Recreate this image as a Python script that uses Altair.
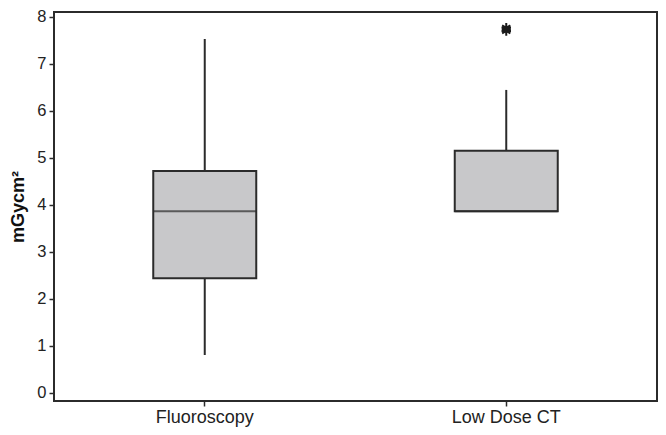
import altair as alt
import pandas as pd

categories = ["Fluoroscopy", "Low Dose CT"]
whisker_low = [0.81, 3.86]
q1 = [2.44, 3.86]
median = [3.86, 3.86]
q3 = [4.72, 5.15]
whisker_high = [7.52, 6.44]
outlier_cat = ["Low Dose CT", "Low Dose CT"]
outlier_val = [7.76, 7.69]

box_df = pd.DataFrame({
    "cat": categories, "lo": whisker_low, "q1": q1, "med": median,
    "q3": q3, "hi": whisker_high,
})
out_df = pd.DataFrame({"cat": outlier_cat, "val": outlier_val})

DARK = "#2b2b2b"
FONT = "Liberation Sans"

x_enc = alt.X("cat:N", sort=categories,
              scale=alt.Scale(paddingInner=0, paddingOuter=0),
              axis=alt.Axis(title=None, labelAngle=0, labelFontSize=18,
                            labelColor="#222222", labelFont=FONT,
                            domain=False, ticks=True, tickSize=5,
                            tickColor=DARK, tickWidth=1.5, labelPadding=2))
y_scale = alt.Scale(domain=[-0.17, 8.096], nice=False, zero=False)
y_axis = alt.Axis(title="mGycm²", values=list(range(0, 9)), grid=False,
                  domain=False, tickSize=5, tickColor=DARK, tickWidth=1.5,
                  labelFontSize=16.5, labelFont=FONT, labelColor="#222222",
                  labelPadding=3, titleFont=FONT, titleFontSize=18,
                  titleFontWeight="bold", titleColor="#111111",
                  titlePadding=9)

base = alt.Chart(box_df)

whisk = base.mark_rule(color=DARK, strokeWidth=2).encode(
    x=x_enc,
    y=alt.Y("lo:Q", scale=y_scale, axis=y_axis),
    y2="hi:Q",
)
box = base.mark_bar(size=103, fill="#c8c8ca", stroke=DARK, strokeWidth=2).encode(
    x=x_enc,
    y=alt.Y("q1:Q", scale=y_scale, axis=y_axis),
    y2="q3:Q",
)
med = base.mark_tick(size=103, thickness=2, color=DARK).encode(
    x=x_enc,
    y=alt.Y("med:Q", scale=y_scale, axis=y_axis),
)
star = "M0,-1L0,1M-0.87,-0.5L0.87,0.5M-0.87,0.5L0.87,-0.5M-1,0L1,0"
outl = alt.Chart(out_df).mark_point(shape=star, size=90, filled=False,
                                     stroke="#1a1a1a", strokeWidth=2,
                                     opacity=1).encode(
    x=x_enc,
    y=alt.Y("val:Q", scale=y_scale, axis=y_axis),
)

chart = alt.layer(whisk, box, med, outl).properties(
    width=603, height=389,
    autosize=alt.AutoSizeParams(type="none"),
    padding={"left": 46, "top": 4, "right": 1, "bottom": 26},
    background="white",
).configure_view(stroke=DARK, strokeWidth=2)

chart.save("out.html", embed_options={"renderer": "svg", "actions": False})
